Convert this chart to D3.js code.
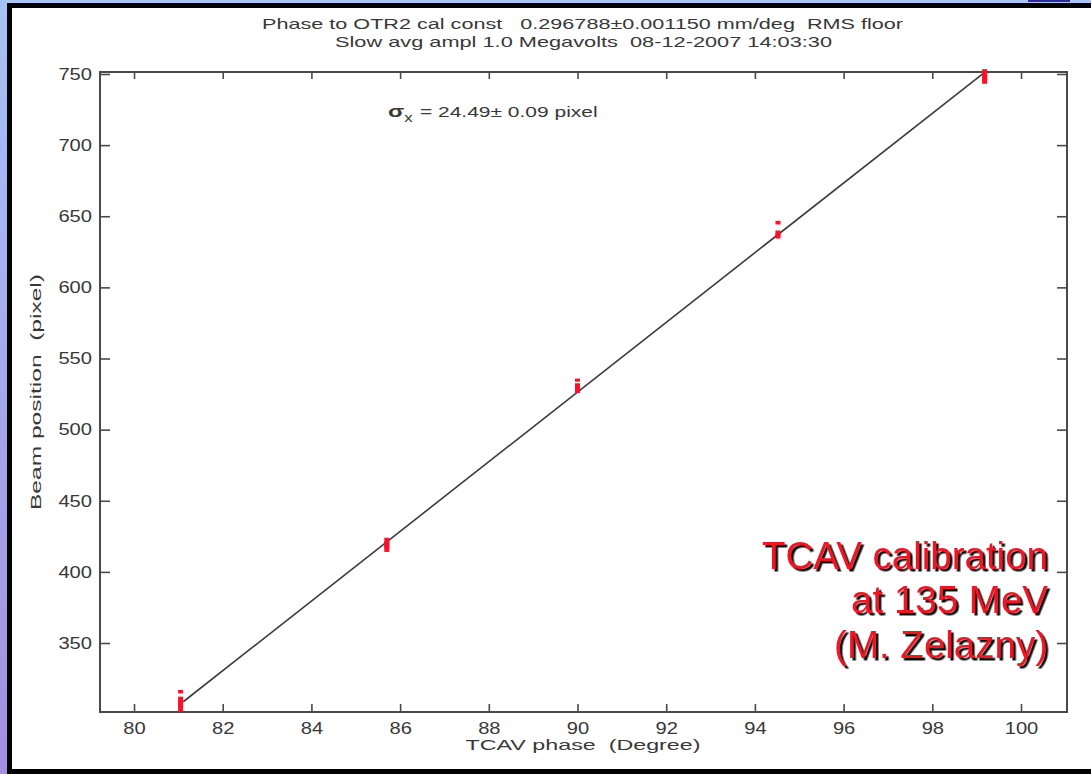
<!DOCTYPE html>
<html>
<head>
<meta charset="utf-8">
<script src="https://cdn.jsdelivr.net/npm/d3@7"></script>
<style>
  html, body { margin: 0; padding: 0; background: #ffffff; }
  svg { display: block; }
  text { font-family: "Liberation Sans", Arial, Helvetica, sans-serif; }
</style>
</head>
<body>
<svg id="chart" width="1091" height="774"></svg>
<script>
// Axis ticks
const xTickValues = [80, 82, 84, 86, 88, 90, 92, 94, 96, 98, 100];
const yTickValues = [350, 400, 450, 500, 550, 600, 650, 700, 750];

// TCAV phase settings (degree) scanned
const phases = [81.05, 85.7, 90.0, 94.52, 99.18];
// Beam position of each shot at each phase (pixel)
const shotPositions = [
  [304.5, 307.0, 309.8, 315.8],
  [416.5, 419.0, 421.5],
  [528.0, 530.4, 534.8],
  [636.3, 638.0, 645.5],
  [745.5, 748.0, 751.0]
];
// Error bar half-height of each shot (pixel)
const shotErrors = [
  [2.5, 2.5, 2.5, 1.2],
  [2.5, 2.5, 2.5],
  [2.2, 2.2, 1.1],
  [2.0, 2.0, 1.3],
  [2.4, 2.4, 2.4]
];

// Linear fit: position = fitIntercept + fitSlope * phase
const fitSlope = 24.49;
const fitIntercept = -1677.68;
const fitRange = [81.11, 99.15];

const titleLines = [
  "Phase to OTR2 cal const   0.296788\u00b10.001150 mm/deg  RMS floor",
  "Slow avg ampl 1.0 Megavolts  08-12-2007 14:03:30"
];
const xTitle = "TCAV phase  (Degree)";
const yTitle = "Beam position  (pixel)";
const noteLines = ["TCAV calibration", "at 135 MeV", "(M. Zelazny)"];

const svg = d3.select("#chart");
const W = 1091, H = 774;
const plot = { left: 100, right: 1067, top: 72, bottom: 712 };

// ---- slide frame ----
const defs = svg.append("defs");
const grad = defs.append("linearGradient").attr("id", "sideGrad")
  .attr("x1", 0).attr("y1", 0).attr("x2", 0).attr("y2", 1);
grad.append("stop").attr("offset", "0%").attr("stop-color", "#a6c2f6");
grad.append("stop").attr("offset", "100%").attr("stop-color", "#a48ee0");

const shadow = defs.append("filter").attr("id", "dropShadow")
  .attr("x", "-5%").attr("y", "-20%").attr("width", "115%").attr("height", "150%");
shadow.append("feDropShadow").attr("dx", 2.5).attr("dy", 2.5)
  .attr("stdDeviation", 0.4).attr("flood-color", "#111").attr("flood-opacity", 1);

svg.append("rect").attr("x", 0).attr("y", 0).attr("width", W).attr("height", 3)
  .attr("fill", "#aac6f6");
svg.append("rect").attr("x", 0).attr("y", 0).attr("width", 7).attr("height", H)
  .attr("fill", "url(#sideGrad)");
svg.append("rect").attr("x", 1028).attr("y", 0).attr("width", 42).attr("height", 2)
  .attr("fill", "#2c2c9c");
svg.append("rect").attr("x", 7).attr("y", 3).attr("width", W - 7).attr("height", 5)
  .attr("fill", "#000");
svg.append("rect").attr("x", 7).attr("y", 3).attr("width", 5).attr("height", H - 3)
  .attr("fill", "#000");
svg.append("rect").attr("x", 7).attr("y", 769).attr("width", W - 7).attr("height", 5)
  .attr("fill", "#000");

// ---- scales ----
const x = d3.scaleLinear().domain([79.233, 101.037]).range([plot.left, plot.right]);
const y = d3.scaleLinear().domain([301.5, 751.4]).range([plot.bottom, plot.top]);

const axisColor = "#4a4a4a";
const labelColor = "#383838";

// ---- axes (ticks point inward) ----
const gB = svg.append("g").attr("transform", `translate(0,${plot.bottom})`)
  .call(d3.axisBottom(x).tickValues(xTickValues).tickSizeInner(-8).tickSizeOuter(0).tickPadding(10));
const gT = svg.append("g").attr("transform", `translate(0,${plot.top})`)
  .call(d3.axisTop(x).tickValues(xTickValues).tickSizeInner(-7).tickSizeOuter(0).tickFormat(""));
const gL = svg.append("g").attr("transform", `translate(${plot.left},0)`)
  .call(d3.axisLeft(y).tickValues(yTickValues).tickSizeInner(-10).tickSizeOuter(0).tickPadding(8));
const gR = svg.append("g").attr("transform", `translate(${plot.right},0)`)
  .call(d3.axisRight(y).tickValues(yTickValues).tickSizeInner(-10).tickSizeOuter(0).tickFormat(""));

[gB, gT, gL, gR].forEach(g => {
  g.select(".domain").remove();
  g.selectAll(".tick line").attr("stroke", axisColor).attr("stroke-width", 1.6);
  g.selectAll(".tick text")
    .attr("fill", labelColor)
    .style("font-size", "16.5px")
    .style("font-family", "\"Liberation Sans\", Arial, sans-serif")
    .attr("textLength", d => String(d).length * 11.2)
    .attr("lengthAdjust", "spacingAndGlyphs");
});

// plot box
svg.append("rect")
  .attr("x", plot.left).attr("y", plot.top)
  .attr("width", plot.right - plot.left).attr("height", plot.bottom - plot.top)
  .attr("fill", "none").attr("stroke", axisColor).attr("stroke-width", 2);

// ---- titles (wide lettering) ----
function wideText(g, str, width) {
  return g.style("font-size", "15px").style("white-space", "pre")
    .attr("fill", labelColor)
    .attr("textLength", width).attr("lengthAdjust", "spacingAndGlyphs")
    .text(str);
}
wideText(svg.append("text").attr("x", 582.5).attr("y", 28.5).attr("text-anchor", "middle"),
  titleLines[0], 641);
wideText(svg.append("text").attr("x", 583.5).attr("y", 46.5).attr("text-anchor", "middle"),
  titleLines[1], 497);
wideText(svg.append("text").attr("x", 583).attr("y", 750).attr("text-anchor", "middle"),
  xTitle, 235);
wideText(svg.append("text")
  .attr("transform", `translate(41,${(plot.top + plot.bottom) / 2}) rotate(-90)`)
  .attr("text-anchor", "middle"), yTitle, 236);

// ---- sigma annotation ----
const sig = svg.append("text")
  .attr("transform", "translate(388,117) scale(1.4,1)")
  .attr("fill", labelColor).style("font-size", "15px");
sig.append("tspan").text("\u03c3").style("font-size", "17px").style("font-weight", "bold");
sig.append("tspan").text("x").attr("dy", 5).style("font-size", "12px");
sig.append("tspan").text(" = 24.49\u00b1 0.09 pixel").attr("dy", -5).attr("dx", 1);

// ---- fit line ----
const fitLine = d3.line().x(d => x(d)).y(d => y(fitIntercept + fitSlope * d));
svg.append("path").datum(fitRange)
  .attr("d", fitLine)
  .attr("fill", "none").attr("stroke", "#3c3c3c").attr("stroke-width", 1.6);

// ---- measured shots with error bars ----
const shots = [];
phases.forEach((p, i) => {
  shotPositions[i].forEach((v, j) => shots.push({ p, v, e: shotErrors[i][j] }));
});
svg.append("g").selectAll("line").data(shots).join("line")
  .attr("x1", d => x(d.p)).attr("x2", d => x(d.p))
  .attr("y1", d => y(d.v - d.e)).attr("y2", d => y(d.v + d.e))
  .attr("stroke", "#ff1028").attr("stroke-width", 5);

// ---- big caption with drop shadow ----
const noteX = 1048;
const noteY = [569, 613, 658];
const note = svg.append("g").attr("filter", "url(#dropShadow)");
noteLines.forEach((t, i) => {
  note.append("text").attr("x", noteX).attr("y", noteY[i])
    .attr("text-anchor", "end").attr("fill", "#ee1422")
    .style("font-size", "38.5px").text(t);
});
</script>
</body>
</html>
